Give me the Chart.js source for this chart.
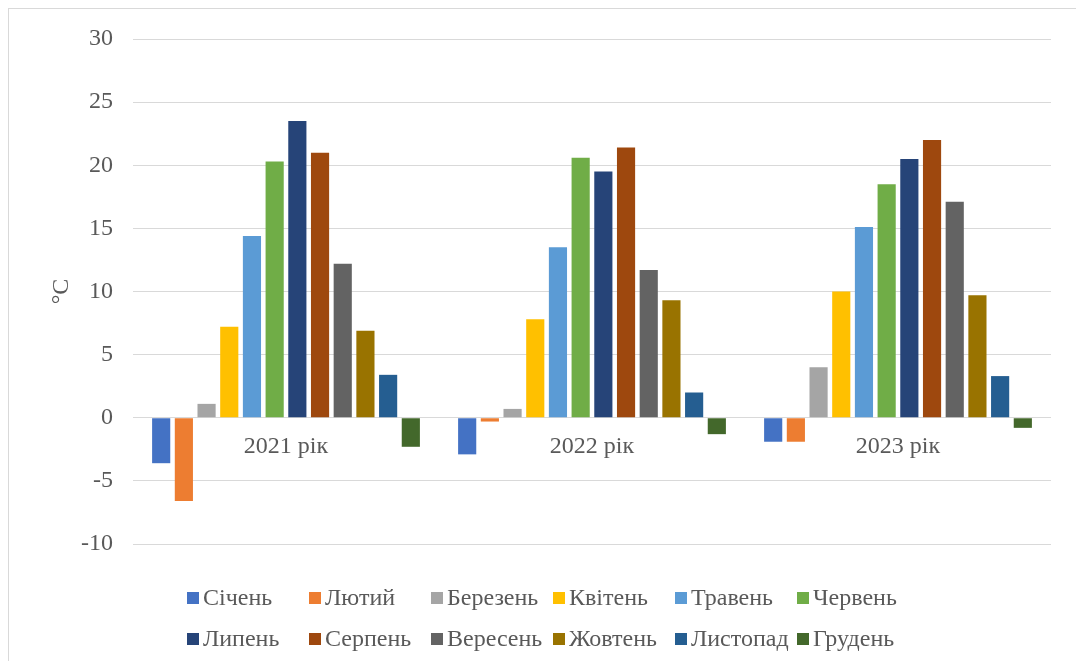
<!DOCTYPE html>
<html lang="uk">
<head>
<meta charset="utf-8">
<title>Середньомісячна температура повітря</title>
<script src="https://cdn.jsdelivr.net/npm/chart.js@4.4.1/dist/chart.umd.min.js"></script>
<style>
  html, body { margin: 0; padding: 0; background: #fff; }
  #wrap { position: relative; width: 1076px; height: 661px; overflow: hidden; }
  #frame {
    position: absolute; left: 8px; top: 8px; width: 1200px; height: 800px;
    border-top: 1px solid #d9d9d9; border-left: 1px solid #d9d9d9;
  }
  #chart { position: absolute; left: 0; top: 0; }
  #legend {
    position: absolute; left: 187px; top: 577px;
    display: grid; grid-template-columns: repeat(6, 122px);
    font-family: "Liberation Serif", "Times New Roman", serif;
    font-size: 24px;
    color: #595959;
  }
  .item { display: flex; align-items: center; height: 41px; white-space: nowrap; }
  .box { width: 12px; height: 12px; margin-right: 4px; flex: none; }
</style>
</head>
<body>
<div id="wrap">
  <div id="frame"></div>
  <canvas id="chart" width="1076" height="661"></canvas>
  <div id="legend"></div>
</div>
<script>
// Categories and series (°C)
const years = ['2021 рік', '2022 рік', '2023 рік'];
const months = ['Січень', 'Лютий', 'Березень', 'Квітень', 'Травень', 'Червень',
                'Липень', 'Серпень', 'Вересень', 'Жовтень', 'Листопад', 'Грудень'];

const jan = [-3.6, -2.9, -1.9];
const feb = [-6.6, -0.3, -1.9];
const mar = [1.1, 0.7, 4.0];
const apr = [7.2, 7.8, 10.0];
const may = [14.4, 13.5, 15.1];
const jun = [20.3, 20.6, 18.5];
const jul = [23.5, 19.5, 20.5];
const aug = [21.0, 21.4, 22.0];
const sep = [12.2, 11.7, 17.1];
const oct = [6.9, 9.3, 9.7];
const nov = [3.4, 2.0, 3.3];
const dec = [-2.3, -1.3, -0.8];
const monthValues = [jan, feb, mar, apr, may, jun, jul, aug, sep, oct, nov, dec];

const monthColors = ['#4472C4', '#ED7D31', '#A5A5A5', '#FFC000', '#5B9BD5', '#70AD47',
                     '#264478', '#9E480E', '#636363', '#997300', '#255E91', '#43682B'];

const yMin = -10;
const yMax = 30;
const yStep = 5;

const textColor = '#595959';
const serif = '"Liberation Serif", "Times New Roman", serif';

const datasets = months.map((name, i) => ({
  label: name,
  data: monthValues[i],
  backgroundColor: monthColors[i],
  categoryPercentage: 0.89,
  barPercentage: 0.8
}));

new Chart(document.getElementById('chart'), {
  type: 'bar',
  data: { labels: years, datasets: datasets },
  options: {
    responsive: false,
    animation: false,
    layout: { padding: { top: 39, right: 25, bottom: 117, left: 0 } },
    plugins: {
      legend: { display: false },
      tooltip: { enabled: false }
    },
    scales: {
      x: {
        position: { y: 0 },
        grid: { display: false },
        border: { display: false },
        ticks: { color: textColor, font: { family: serif, size: 24 }, padding: 7 }
      },
      y: {
        min: yMin,
        max: yMax,
        ticks: { stepSize: yStep, padding: 20, color: textColor, font: { family: serif, size: 24 } },
        grid: { color: '#d9d9d9', lineWidth: 1, drawTicks: false },
        border: { display: false },
        title: {
          display: true,
          text: '°C',
          color: textColor,
          font: { family: serif, size: 24 },
          padding: { top: 47, bottom: 0 }
        },
        afterFit(scale) { scale.width = 133; }
      }
    }
  }
});

// Legend laid out in Excel-like columns
const legend = document.getElementById('legend');
legend.innerHTML = months.map((name, i) => `
  <div class="item"><span class="box" style="background:${monthColors[i]}"></span>${name}</div>
`).join('');
</script>
</body>
</html>
